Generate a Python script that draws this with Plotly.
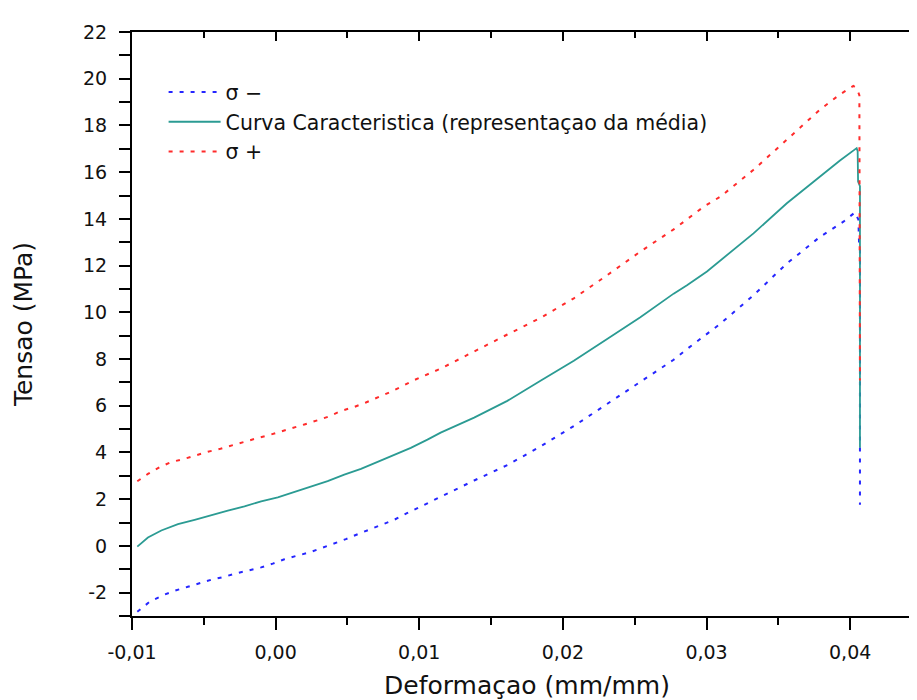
import numpy as np
import plotly.graph_objects as go

# ---- data ----
strain_minus = [-0.00963, -0.00877, -0.00785, -0.00703, -0.00611, -0.00530, -0.00449, -0.00356,
                -0.00275, -0.00194, -0.00101, -0.00020, 0.00061, 0.00142, 0.00235, 0.00316,
                0.00397, 0.00489, 0.00571, 0.00652, 0.00732, 0.00826, 0.00918, 0.01149,
                0.01382, 0.01613, 0.01844, 0.02076, 0.02308, 0.02539, 0.02771, 0.02864,
                0.03003, 0.03096, 0.03327, 0.03559, 0.03790, 0.03953, 0.04034, 0.04057,
                0.04062, 0.04068, 0.04068]
stress_minus = [-2.82, -2.39, -2.11, -1.92, -1.75, -1.60, -1.45, -1.32,
                -1.17, -1.06, -0.92, -0.76, -0.57, -0.43, -0.28, -0.10,
                0.07, 0.29, 0.50, 0.69, 0.90, 1.12, 1.41, 2.12,
                2.80, 3.46, 4.26, 5.13, 6.07, 7.00, 7.97, 8.43,
                9.08, 9.51, 10.73, 12.09, 13.23, 13.88, 14.28, 13.97,
                12.90, 12.80, 1.76]

strain_mean = [-0.00963, -0.00889, -0.00796, -0.00680, -0.00564, -0.00449, -0.00333, -0.00217,
               -0.00101, 0.00015, 0.00131, 0.00246, 0.00362, 0.00478, 0.00594, 0.00710,
               0.00826, 0.00941, 0.01057, 0.01149, 0.01382, 0.01613, 0.01844, 0.02076,
               0.02308, 0.02539, 0.02771, 0.02864, 0.03003, 0.03096, 0.03327, 0.03559,
               0.03790, 0.03929, 0.04045, 0.04052, 0.04055, 0.04068, 0.04068]
stress_mean = [-0.03, 0.36, 0.66, 0.93, 1.12, 1.33, 1.51, 1.69,
               1.91, 2.08, 2.30, 2.52, 2.77, 3.05, 3.30, 3.60,
               3.91, 4.20, 4.55, 4.85, 5.49, 6.21, 7.07, 7.93,
               8.86, 9.79, 10.80, 11.16, 11.75, 12.22, 13.38, 14.67,
               15.82, 16.50, 17.03, 16.90, 15.60, 15.40, 4.20]

strain_plus = [-0.00963, -0.00889, -0.00808, -0.00727, -0.00634, -0.00553, -0.00472, -0.00384,
               -0.00298, -0.00217, -0.00136, -0.00043, 0.00038, 0.00119, 0.00200, 0.00293,
               0.00374, 0.00455, 0.00548, 0.00628, 0.00710, 0.00791, 0.00872, 0.00965,
               0.01149, 0.01382, 0.01613, 0.01844, 0.02076, 0.02308, 0.02539, 0.02771,
               0.02887, 0.02980, 0.03096, 0.03327, 0.03559, 0.03790, 0.03929, 0.04022,
               0.04045, 0.04064, 0.04068]
stress_plus = [2.77, 3.08, 3.37, 3.59, 3.73, 3.89, 4.03, 4.16,
               4.32, 4.46, 4.60, 4.75, 4.89, 5.03, 5.20, 5.38,
               5.55, 5.78, 5.95, 6.14, 6.35, 6.57, 6.81, 7.10,
               7.59, 8.33, 9.05, 9.76, 10.60, 11.59, 12.60, 13.55,
               14.09, 14.52, 14.95, 16.10, 17.39, 18.68, 19.33, 19.69,
               19.60, 19.30, 7.08]

names = ["σ −", "Curva Caracteristica (representaçao da média)", "σ +"]

x_tick_vals = [-0.01, 0.00, 0.01, 0.02, 0.03, 0.04]
x_tick_labels = ["-0,01", "0,00", "0,01", "0,02", "0,03", "0,04"]
y_tick_vals = [-2, 0, 2, 4, 6, 8, 10, 12, 14, 16, 18, 20, 22]
y_tick_labels = ["-2", "0", "2", "4", "6", "8", "10", "12", "14", "16", "18", "20", "22"]

x_title = "Deformaçao (mm/mm)"
y_title = "Tensao (MPa)"

# ---- styling ----
BLUE = "#2626ff"
TEAL = "#2b9b93"
RED = "#ff2b2b"
FONT = "DejaVu Sans"

fig = go.Figure()
fig.add_trace(go.Scatter(x=strain_minus, y=stress_minus, mode="lines", name=names[0],
                         legendgroup="a",
                         line=dict(color=BLUE, width=2, dash="4px,7px")))
fig.add_trace(go.Scatter(x=strain_mean, y=stress_mean, mode="lines", name=names[1],
                         legendgroup="b",
                         line=dict(color=TEAL, width=1.8)))
fig.add_trace(go.Scatter(x=strain_plus, y=stress_plus, mode="lines", name=names[2],
                         legendgroup="c",
                         line=dict(color=RED, width=2, dash="4px,7px")))
# empty trace to create the top (inside-ticks) axis
fig.add_trace(go.Scatter(x=[], y=[], xaxis="x2", showlegend=False, hoverinfo="skip"))

xminor = np.arange(-0.01, 0.0451, 0.005)
yminor = np.arange(-3, 22.01, 1.0)

fig.update_layout(
    width=917, height=700,
    margin=dict(l=124, r=3, t=24, b=92),
    paper_bgcolor="white", plot_bgcolor="white",
    font=dict(family=FONT, color="black"),
    showlegend=True,
    legend=dict(x=0.040, y=0.931, xanchor="left", yanchor="top",
                bgcolor="rgba(0,0,0,0)", font=dict(family=FONT, size=20.5, color="#111"),
                traceorder="grouped", tracegroupgap=0, itemwidth=52),
    xaxis=dict(range=[-0.01, 0.045], tickmode="array", tickvals=x_tick_vals, ticktext=x_tick_labels,
               automargin=False,
               showgrid=False, zeroline=False, showline=True, linecolor="black", linewidth=2,
               mirror=True, ticks="outside", ticklen=12, tickwidth=2, tickcolor="black",
               ticklabelstandoff=6,
               tickfont=dict(family=FONT, size=19, color="#111"),
               minor=dict(tickvals=xminor, ticks="outside", ticklen=7, tickwidth=2, tickcolor="black", showgrid=False),
               title=dict(text=x_title, font=dict(family=FONT, size=25, color="#111"), standoff=15)),
    xaxis2=dict(range=[-0.01, 0.045], overlaying="x", side="top", matches="x", automargin=False,
                tickmode="array", tickvals=x_tick_vals, showticklabels=False,
                showgrid=False, zeroline=False, showline=False,
                ticks="inside", ticklen=9, tickwidth=2, tickcolor="black",
                minor=dict(tickvals=xminor, ticks="inside", ticklen=6, tickwidth=2, tickcolor="black", showgrid=False)),
    yaxis=dict(range=[-3, 22], tickmode="array", tickvals=y_tick_vals, ticktext=y_tick_labels,
               automargin=False,
               showgrid=False, zeroline=False, showline=True, linecolor="black", linewidth=2,
               mirror="allticks", ticks="outside", ticklen=11, tickwidth=2, tickcolor="black",
               ticklabelstandoff=8,
               tickfont=dict(family=FONT, size=19, color="#111"),
               minor=dict(tickvals=yminor, ticks="outside", ticklen=5, tickwidth=2, tickcolor="black", showgrid=False),
               title=dict(text=y_title, font=dict(family=FONT, size=25, color="#111"), standoff=43)),
)

fig.write_html("out.html")
